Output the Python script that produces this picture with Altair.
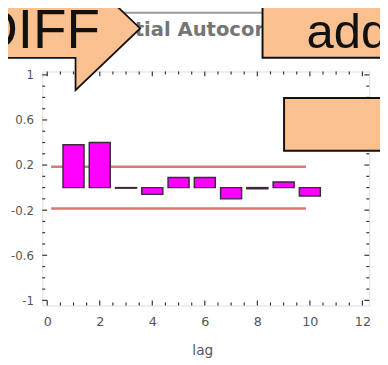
import altair as alt
import pandas as pd

# ---- data ----
lags = [1, 2, 3, 4, 5, 6, 7, 8, 9, 10]
pacf = [0.38, 0.40, -0.005, -0.06, 0.09, 0.09, -0.10, -0.01, 0.05, -0.075]
conf_levels = [0.185, -0.185]
conf_start = [0.15, 0.15]
conf_end = [9.85, 9.85]

x_major = [0, 2, 4, 6, 8, 10, 12]
x_minor = [0.5, 1, 1.5, 2.5, 3, 3.5, 4.5, 5, 5.5, 6.5, 7, 7.5, 8.5, 9, 9.5, 10.5, 11, 11.5]
y_major = [1, 0.6, 0.2, -0.2, -0.6, -1]
y_minor = [0.9, 0.8, 0.7, 0.5, 0.4, 0.3, 0.1, 0, -0.1, -0.3, -0.4, -0.5, -0.7, -0.8, -0.9]

title_text = "Partial Autocorrelation"
x_title = "lag"
callout_left = "DIFF"
callout_right = "add"

W, H = 334, 239
PEACH = "#FAC090"

XS = alt.Scale(domain=[-0.19, 12.26], nice=False, zero=False)
YS = alt.Scale(domain=[-1.045, 1.03], nice=False, zero=False)
LABEL_FONT = "DejaVu Sans"
X_AXIS = alt.Axis(values=x_major, ticks=False, domain=False, grid=False, title=None,
                  labelFont=LABEL_FONT, labelFontSize=13, labelColor="#555",
                  labelPadding=10, labelFlush=False, labelOverlap=False, format="d")
Y_AXIS = alt.Axis(values=y_major, ticks=False, domain=False, grid=False, title=None,
                  labelFont=LABEL_FONT, labelFontSize=12, labelColor="#555",
                  labelPadding=9, labelOverlap=False,
                  labelExpr="replace(format(datum.value, '~g'), '\u2212', '-')")

bars_df = pd.DataFrame({"lag": lags, "pacf": pacf})
conf_df = pd.DataFrame({"level": conf_levels, "start": conf_start, "end": conf_end})

# window frame line at top of screenshot
frame_top = alt.Chart(pd.DataFrame({"a": [0]})).mark_rule(color="#9a9a9a", strokeWidth=2).encode(
    x=alt.value(-35), x2=alt.value(345), y=alt.value(-60)
)

title = alt.Chart(pd.DataFrame({"t": [title_text]})).mark_text(
    font=LABEL_FONT, fontSize=20, fontWeight="bold", color="#757575",
    align="left", baseline="alphabetic"
).encode(text="t:N", x=alt.value(57), y=alt.value(-36))

conf = alt.Chart(conf_df).mark_rule(color="#D9796F", strokeWidth=2.5).encode(
    x=alt.X("start:Q", scale=XS, axis=X_AXIS),
    x2="end:Q",
    y=alt.Y("level:Q", scale=YS, axis=Y_AXIS),
)

bars = alt.Chart(bars_df).transform_calculate(
    x0="datum.lag - 0.4", x1="datum.lag + 0.4"
).mark_rect(fill="#FF00FF", stroke="#3a2a3a", strokeWidth=1.5).encode(
    x=alt.X("x0:Q", scale=XS, axis=X_AXIS),
    x2="x1:Q",
    y=alt.Y("pacf:Q", scale=YS, axis=Y_AXIS),
    y2=alt.datum(0),
)


def xticks(vals, y0, y1):
    return alt.Chart(pd.DataFrame({"v": vals})).mark_rule(color="#333", strokeWidth=1.2).encode(
        x=alt.X("v:Q", scale=XS, axis=X_AXIS), y=alt.value(y0), y2=alt.value(y1)
    )


def yticks(vals, x0, x1):
    return alt.Chart(pd.DataFrame({"v": vals})).mark_rule(color="#333", strokeWidth=1.2).encode(
        y=alt.Y("v:Q", scale=YS, axis=Y_AXIS), x=alt.value(x0), x2=alt.value(x1)
    )


ticks = [
    xticks(x_major, H, H - 5), xticks(x_minor, H, H - 3),
    xticks(x_major, 0, 5), xticks(x_minor, 0, 3),
    yticks(y_major, 0, 5), yticks(y_minor, 0, 3),
    yticks(y_major, W, W - 5), yticks(y_minor, W, W - 3),
]

lag_text = alt.Chart(pd.DataFrame({"t": [x_title]})).mark_text(
    font=LABEL_FONT, fontSize=14, color="#555", align="center", baseline="alphabetic"
).encode(text="t:N", x=alt.value(164), y=alt.value(290))

arrow_path = "M-100,-30 L0,-30 L0,-63 L66,0 L0,63 L0,30 L-100,30 Z"
arrow = alt.Chart(pd.DataFrame({"a": [0]})).mark_point(
    shape=arrow_path, size=4, filled=True, fill=PEACH, stroke="#111",
    strokeWidth=1.8, opacity=1, fillOpacity=1, strokeOpacity=1
).encode(x=alt.value(34), y=alt.value(-44))

diff_text = alt.Chart(pd.DataFrame({"t": [callout_left]})).mark_text(
    font="Liberation Sans Narrow, Liberation Sans, Arial", fontSize=56, color="#111",
    align="right", baseline="alphabetic"
).encode(text="t:N", x=alt.value(59), y=alt.value(-24))

add_box = alt.Chart(pd.DataFrame({"a": [0]})).mark_rect(
    fill=PEACH, stroke="#111", strokeWidth=2
).encode(x=alt.value(225), x2=alt.value(360), y=alt.value(-80), y2=alt.value(-14))

add_text = alt.Chart(pd.DataFrame({"t": [callout_right]})).mark_text(
    font="Liberation Sans, Arial", fontSize=50, color="#111", align="left", baseline="alphabetic"
).encode(text="t:N", x=alt.value(270), y=alt.value(-24))

right_box = alt.Chart(pd.DataFrame({"a": [0]})).mark_rect(
    fill=PEACH, stroke="#111", strokeWidth=2
).encode(x=alt.value(247), x2=alt.value(360), y=alt.value(27), y2=alt.value(81))

chart = alt.layer(
    frame_top, title, conf, bars, *ticks, lag_text, arrow, diff_text, add_box, add_text, right_box
).properties(
    width=W, height=H,
    padding={"left": 35, "top": 61, "right": 11, "bottom": 57},
    autosize=alt.AutoSizeParams(type="none"),
).configure_view(stroke="#3a3a3a", strokeWidth=1.5).configure(background="white")

chart.save("out.html", embed_options={"renderer": "svg", "actions": False})
